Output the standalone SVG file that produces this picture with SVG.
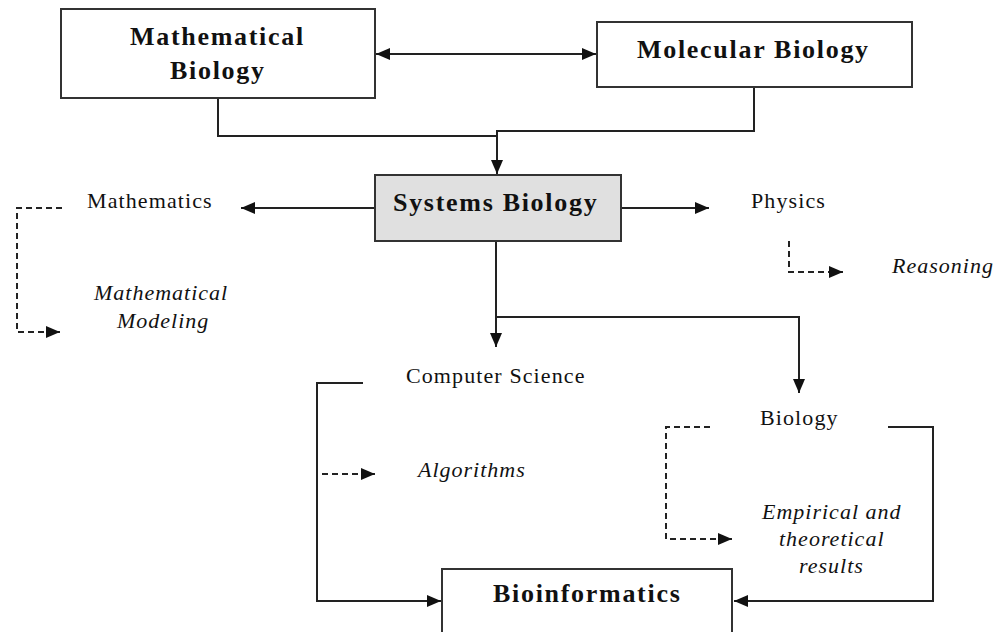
<svg xmlns="http://www.w3.org/2000/svg" width="997" height="632" viewBox="0 0 997 632">
<defs>
<marker id="ah" markerUnits="userSpaceOnUse" markerWidth="16" markerHeight="14" refX="14" refY="7" orient="auto-start-reverse">
<path d="M0,1 L14,7 L0,13 Z" fill="#111"/>
</marker>
<style>
.box{fill:#fff;stroke:#333;stroke-width:2}
.gray{fill:#e0e0e0}
.b{font-family:"Liberation Serif","Times New Roman",serif;font-weight:bold;font-size:26px;letter-spacing:1.7px;fill:#111}
.r{font-family:"Liberation Serif","Times New Roman",serif;font-size:22px;letter-spacing:1.1px;fill:#111}
.i{font-family:"Liberation Serif","Times New Roman",serif;font-style:italic;font-size:22px;letter-spacing:1px;fill:#111}
.ln{fill:none;stroke:#222;stroke-width:2}
.ds{fill:none;stroke:#222;stroke-width:2;stroke-dasharray:6,4}
</style>
</defs>
<rect width="997" height="632" fill="#fff"/>
<g id="connectors">
<path class="ln" d="M376,54 H596" marker-start="url(#ah)" marker-end="url(#ah)"/>
<path class="ln" d="M218,98 V136 H497"/>
<path class="ln" d="M754,87 V131 H497 V174" marker-end="url(#ah)"/>
<path class="ln" d="M375,208 H241" marker-end="url(#ah)"/>
<path class="ln" d="M621,208 H709" marker-end="url(#ah)"/>
<path class="ln" d="M496,241 V347" marker-end="url(#ah)"/>
<path class="ln" d="M496,317 H799 V393" marker-end="url(#ah)"/>
<path class="ln" d="M363,383 H317 V601 H441" marker-end="url(#ah)"/>
<path class="ln" d="M888,427 H933 V601 H734" marker-end="url(#ah)"/>
<path class="ds" d="M62,208 H17 V332 H60" marker-end="url(#ah)"/>
<path class="ds" d="M789,241 V272 H843" marker-end="url(#ah)"/>
<path class="ds" d="M322,474 H375" marker-end="url(#ah)"/>
<path class="ds" d="M710,427 H666 V539 H732" marker-end="url(#ah)"/>
</g>
<g id="mathematical-biology">
<rect class="box" x="61" y="9" width="314" height="89"/>
<text class="b" x="130" y="45">Mathematical</text>
<text class="b" x="170" y="79">Biology</text>
</g>
<g id="molecular-biology">
<rect class="box" x="597" y="22" width="315" height="65"/>
<text class="b" x="637" y="58">Molecular Biology</text>
</g>
<g id="systems-biology">
<rect class="box gray" x="375" y="175" width="246" height="66"/>
<text class="b" x="393" y="211">Systems Biology</text>
</g>
<g id="mathematics">
<text class="r" x="87" y="208">Mathematics</text>
</g>
<g id="mathematical-modeling">
<text class="i" x="94" y="300">Mathematical</text>
<text class="i" x="117" y="328">Modeling</text>
</g>
<g id="physics">
<text class="r" x="751" y="208">Physics</text>
</g>
<g id="reasoning">
<text class="i" x="892" y="273">Reasoning</text>
</g>
<g id="computer-science">
<text class="r" x="406" y="383">Computer Science</text>
</g>
<g id="algorithms">
<text class="i" x="418" y="477">Algorithms</text>
</g>
<g id="biology">
<text class="r" x="760" y="425">Biology</text>
</g>
<g id="empirical">
<text class="i" x="762" y="519">Empirical and</text>
<text class="i" x="779" y="546">theoretical</text>
<text class="i" x="799" y="573">results</text>
</g>
<g id="bioinformatics">
<rect class="box" x="442" y="569" width="290" height="80"/>
<text class="b" x="493" y="602">Bioinformatics</text>
</g>
</svg>
